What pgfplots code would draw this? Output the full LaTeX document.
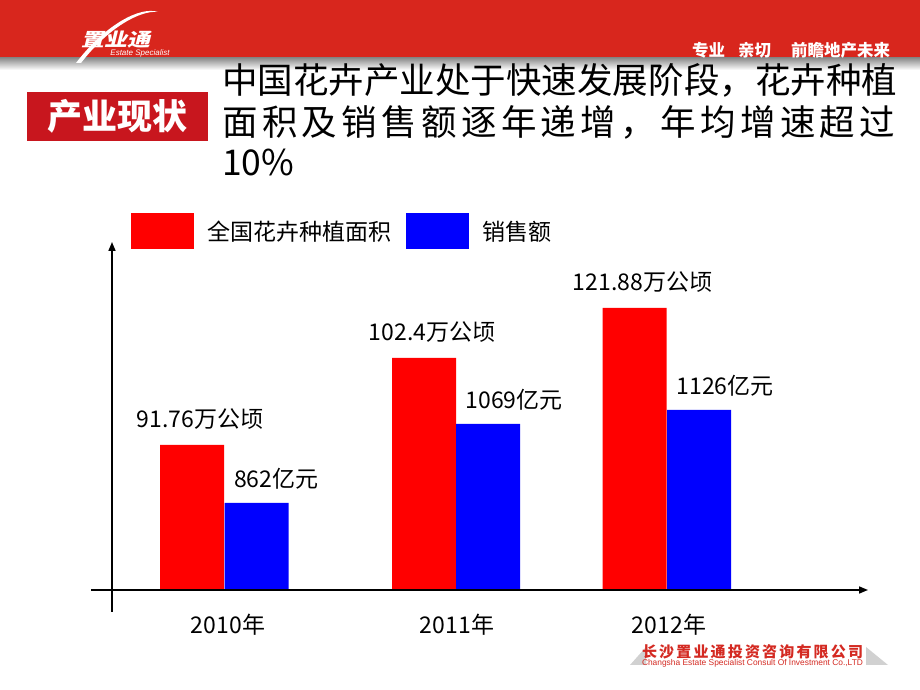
\documentclass[border=0pt]{standalone}
\usepackage{fontspec}
\setmainfont{Noto Sans CJK SC}
\newfontfamily\latin{Liberation Sans}
\usepackage{graphicx}
\usepackage{pgfplots}
\pgfplotsset{compat=1.18}
\usetikzlibrary{arrows.meta}
\definecolor{hdr}{HTML}{D8261D}
\definecolor{boxred}{HTML}{C8161E}
\definecolor{ftred}{HTML}{D42A22}
\definecolor{barred}{HTML}{FF0000}
\definecolor{barblue}{HTML}{0000FF}
\newcommand\fs[1]{\fontsize{#1}{#1}\selectfont}
\begin{document}
\begin{tikzpicture}[x=1pt,y=1pt]
\useasboundingbox (0,0) rectangle (920,690);
\fill[white] (0,0) rectangle (920,690);
% header
\fill[hdr] (0,632) rectangle (920,690);
\shade[top color=black!45, bottom color=white] (0,620) rectangle (920,632);
\node[anchor=west, text=white, font=\bfseries\fs{16.5}, inner sep=0] at (692,640) {专业\hspace{13pt}亲切\hspace{20pt}前瞻地产未来};
\fill[white] (76,627) .. controls (105,665) and (140,684) .. (158,678) .. controls (140,680) and (108,662) .. (81,627) -- cycle;
\begin{scope}[shift={(118,650)}, xslant=0.25, yscale=0.8]
\node[transform shape, text=white, font=\bfseries\fs{23}, inner sep=0] at (0,0) {置业通};
\end{scope}
\node[text=white, font=\latin\itshape\fs{8}, inner sep=0] at (140,637) {Estate Specialist};
% title box
\fill[boxred] (27,549) rectangle (208,598);
\node[text=white, font=\bfseries\fs{35}, inner sep=0] at (117.5,573.5) {产业现状};
% title
\node[anchor=base west, inner sep=0, font=\fs{35.5}] at (222,596.5) {\makebox[675pt][s]{中\hfill 国\hfill 花\hfill 卉\hfill 产\hfill 业\hfill 处\hfill 于\hfill 快\hfill 速\hfill 发\hfill 展\hfill 阶\hfill 段\hfill ，\hfill 花\hfill 卉\hfill 种\hfill 植}};
\node[anchor=base west, inner sep=0, font=\fs{35.5}] at (222,554.5) {\makebox[673pt][s]{面\hfill 积\hfill 及\hfill 销\hfill 售\hfill 额\hfill 逐\hfill 年\hfill 递\hfill 增\hfill ，\hfill 年\hfill 均\hfill 增\hfill 速\hfill 超\hfill 过}};
\node[anchor=base west, inner sep=0, font=\fs{35.5}] at (222,514) {10\%};
% footer
\fill[black!18] (630,25) -- (646,25) -- (646,43) -- cycle;
\fill[black!18] (866,25) -- (888,25) -- (866,43) -- cycle;
\node[text=ftred, font=\bfseries\fs{15}, inner sep=0] at (752.5,38) {\makebox[221pt][s]{长\hfill 沙\hfill 置\hfill 业\hfill 通\hfill 投\hfill 资\hfill 咨\hfill 询\hfill 有\hfill 限\hfill 公\hfill 司}};
\node[text=ftred, inner sep=0] at (752.5,27) {\resizebox{221pt}{!}{\latin Changsha Estate Specialist Consult Of Investment Co.,LTD}};
% chart
\begin{axis}[at={(0,0)}, anchor=south west, scale only axis,
  width=920pt, height=690pt, xmin=0, xmax=920, ymin=-100, ymax=590,
  hide axis, clip=false,
  legend style={draw=none, fill=none, at={(131/920,477/690)}, anchor=north west,
    font=\fs{23}, inner sep=0pt, legend columns=2,
    /tikz/every odd column/.append style={column sep=11pt},
    /tikz/every even column/.append style={column sep=13pt}},
  legend image code/.code={\fill[#1,draw=none] (0pt,-18pt) rectangle (63pt,18pt);},
  legend cell align=left]
\addplot[ybar, bar width=64, bar shift=0, fill=barred, draw=none,
  point meta=explicit symbolic, nodes near coords,
  nodes near coords style={anchor=center, yshift=26pt, xshift=8pt, font=\fs{23}, text=black}]
  coordinates {(192,145) [91.76万公顷] (424,232) [102.4万公顷] (634.5,282) [121.88万公顷]};
\addlegendentry{全国花卉种植面积}
\addplot[ybar, bar width=64, bar shift=0, fill=barblue, draw=none,
  point meta=explicit symbolic, nodes near coords,
  nodes near coords style={anchor=west, yshift=24pt, xshift=-26pt, font=\fs{23}, text=black}]
  coordinates {(256.5,87) [862亿元] (488,166) [1069亿元] (699,180) [1126亿元]};
\addlegendentry{销售额}
\draw[line width=1.6pt, -{Triangle[length=9pt,width=7pt]}] (axis cs:91,0) -- (axis cs:868,0);
\draw[line width=1.6pt, -{Triangle[length=9pt,width=7pt]}] (axis cs:112,-22) -- (axis cs:112,348);
\node[font=\fs{23}] at (axis cs:228,-35) {2010年};
\node[font=\fs{23}] at (axis cs:457,-35) {2011年};
\node[font=\fs{23}] at (axis cs:669,-35) {2012年};
\end{axis}
\end{tikzpicture}
\end{document}
